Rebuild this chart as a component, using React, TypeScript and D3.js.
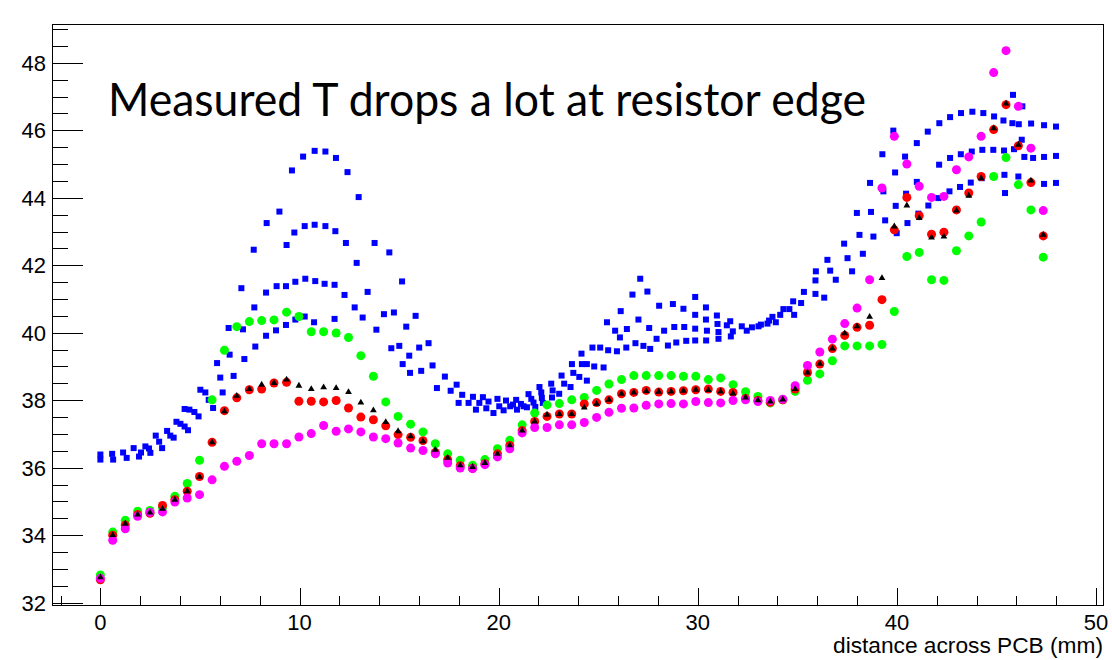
import React from 'react';
import * as d3 from 'd3';

const WIDTH = 1112;
const HEIGHT = 660;

// Sensor positions along the board (mm), shared by the four dot series
const positionMm = [
  0, 0.62, 1.25, 1.87, 2.49, 3.12, 3.74, 4.36, 4.98, 5.61, 6.23, 6.85, 7.48, 8.1, 8.72, 9.35,
  9.97, 10.59, 11.21, 11.84, 12.46, 13.08, 13.71, 14.33, 14.95, 15.58, 16.2, 16.82, 17.44, 18.07,
  18.69, 19.31, 19.94, 20.56, 21.18, 21.81, 22.43, 23.05, 23.67, 24.3, 24.92, 25.54, 26.17, 26.79,
  27.41, 28.04, 28.66, 29.28, 29.9, 30.53, 31.15, 31.77, 32.4, 33.02, 33.64, 34.27, 34.89, 35.51,
  36.13, 36.76, 37.38, 38.0, 38.63, 39.25, 39.87, 40.5, 41.12, 41.74, 42.36, 42.99, 43.61, 44.23,
  44.86, 45.48, 46.1, 46.73, 47.35,
];

const greenT = [
  32.82, 34.09, 34.44, 34.71, 34.73, 34.83, 35.15, 35.53, 36.22, 38.01, 39.48, 40.18, 40.33, 40.36,
  40.38, 40.61, 40.48, 40.03, 40.03, 39.99, 39.86, 39.32, 38.71, 37.95, 37.52, 37.29, 37.06, 36.71,
  36.41, 36.22, 36.07, 36.24, 36.56, 36.81, 37.27, 37.62, 37.86, 37.9, 38.01, 38.08, 38.29, 38.48,
  38.61, 38.73, 38.73, 38.73, 38.73, 38.71, 38.71, 38.61, 38.66, 38.46, 38.25, 38.11, 37.92, 38.01,
  38.26, 38.59, 38.78, 39.17, 39.61, 39.61, 39.61, 39.65, 40.63, 42.26, 42.38, 41.57, 41.55, 42.43,
  42.87, 43.28, 44.63, 45.19, 44.39, 43.64, 42.24,
];

const redT = [
  32.68, 34.0, 34.3, 34.61, 34.65, 34.88, 35.05, 35.3, 35.74, 36.75, 37.69, 38.07, 38.31, 38.33,
  38.51, 38.53, 37.97, 37.97, 37.95, 37.99, 37.77, 37.5, 37.42, 37.24, 36.98, 36.9, 36.8, 36.45,
  36.24, 36.06, 35.98, 36.12, 36.41, 36.66, 37.1, 37.37, 37.52, 37.59, 37.59, 37.89, 37.93, 38.01,
  38.19, 38.23, 38.29, 38.24, 38.26, 38.28, 38.31, 38.33, 38.26, 38.23, 38.05, 37.99, 37.94, 38.01,
  38.33, 38.82, 39.07, 39.53, 39.92, 40.16, 40.22, 40.98, 43.05, 44.01, 43.47, 42.92, 42.98, 43.64,
  44.14, 44.63, 46.02, 46.76, 45.54, 44.45, 42.87,
];

const blackT = [
  32.75, 34.0, 34.34, 34.61, 34.67, 34.78, 35.05, 35.3, 35.73, 36.75, 37.67, 38.13, 38.33, 38.46,
  38.51, 38.61, 38.43, 38.33, 38.38, 38.36, 38.24, 37.93, 37.7, 37.35, 37.08, 36.93, 36.78, 36.53,
  36.29, 36.07, 36.02, 36.14, 36.41, 36.66, 37.1, 37.37, 37.57, 37.59, 37.59, 37.78, 37.89, 38.01,
  38.19, 38.23, 38.27, 38.25, 38.26, 38.28, 38.31, 38.3, 38.26, 38.2, 38.08, 38.0, 37.96, 38.02,
  38.33, 38.82, 39.08, 39.53, 39.98, 40.19, 40.47, 41.62, 43.15, 43.77, 43.4, 42.82, 42.85, 43.62,
  44.06, 44.58, 46.06, 46.79, 45.57, 44.51, 42.9,
];

const magentaT = [
  32.72, 33.85, 34.19, 34.56, 34.68, 34.69, 34.98, 35.1, 35.2, 35.64, 36.04, 36.19, 36.36, 36.71,
  36.71, 36.71, 36.91, 37.01, 37.25, 37.08, 37.15, 37.06, 36.91, 36.86, 36.73, 36.58, 36.51, 36.41,
  36.14, 35.99, 35.97, 36.09, 36.32, 36.56, 37.03, 37.19, 37.19, 37.27, 37.27, 37.34, 37.49, 37.64,
  37.76, 37.77, 37.85, 37.89, 37.9, 37.89, 37.96, 37.93, 37.92, 37.99, 38.01, 37.96, 37.99, 38.03,
  38.43, 39.03, 39.43, 39.81, 40.27, 40.73, 41.57, 44.29, 45.82, 45.0, 44.34, 44.01, 44.04, 44.83,
  45.21, 45.82, 47.71, 48.36, 46.71, 45.47, 43.62,
];

// Scanned profile: [position mm, T]
const blueScan: [number, number][] = [
  [0.0, 36.39], [0.0, 36.24], [0.59, 36.41], [0.64, 36.24], [1.14, 36.45], [1.32, 36.29], [1.67, 36.58],
  [1.94, 36.33], [2.04, 36.45], [2.26, 36.63], [2.44, 36.57], [2.51, 36.44], [2.78, 36.95], [2.95, 36.77],
  [3.1, 36.58], [3.35, 37.09], [3.51, 36.95], [3.68, 36.89], [3.82, 37.36], [4.02, 37.3], [4.23, 37.22],
  [4.4, 37.11], [4.23, 37.74], [4.47, 37.72], [4.72, 37.65], [4.93, 37.52], [5.02, 38.31], [5.27, 38.23],
  [5.44, 38.01], [5.66, 37.77], [5.86, 39.1], [6.02, 38.67], [6.14, 38.23], [6.44, 40.14], [6.49, 39.35],
  [9.62, 44.81], [10.18, 45.22], [10.76, 45.39], [11.3, 45.37], [11.83, 45.18], [12.41, 44.76], [12.97, 44.02],
  [8.99, 43.59], [8.35, 43.25], [7.7, 42.46],
  [9.74, 42.97], [10.26, 43.16], [10.76, 43.2], [11.3, 43.16], [11.8, 43.01], [12.33, 42.66], [12.87, 42.07],
  [9.35, 42.6],
  [7.08, 41.32], [7.73, 40.75], [8.32, 41.19], [8.85, 41.38], [9.32, 41.38], [9.79, 41.51], [10.29, 41.6],
  [10.79, 41.53], [11.26, 41.45], [11.76, 41.42], [12.26, 41.12], [12.77, 40.75],
  [7.16, 40.1], [7.78, 39.59], [8.32, 39.91], [8.82, 40.07], [9.32, 40.23], [9.79, 40.39], [10.26, 40.48],
  [10.73, 40.31], [11.76, 40.41], [7.23, 39.22], [6.69, 38.72],
  [13.77, 42.66], [14.51, 42.38], [15.15, 41.52], [13.42, 41.21], [13.17, 40.45], [14.24, 40.55], [14.74, 40.6],
  [15.83, 40.5], [13.86, 40.09], [15.36, 40.18], [14.61, 39.54], [15.01, 39.61], [16.01, 39.56], [16.48, 39.69],
  [15.51, 39.32], [15.18, 39.07], [15.55, 38.81], [16.11, 38.87], [16.68, 39.03], [17.3, 38.7], [16.9, 38.36],
  [17.59, 38.28], [17.89, 38.46], [18.17, 38.16], [17.99, 37.92], [18.49, 37.92], [18.71, 38.1], [18.86, 37.72],
  [19.03, 37.92], [19.21, 38.09], [19.38, 37.76], [19.49, 37.96],
  [19.74, 37.62], [19.94, 38.04], [20.03, 37.82], [20.25, 37.7], [20.37, 37.99], [20.58, 37.82], [20.72, 37.87],
  [20.88, 38.01], [20.92, 37.72], [21.12, 37.89], [21.25, 37.82], [21.5, 38.18], [21.42, 37.79], [21.64, 38.04],
  [21.75, 37.93], [21.84, 37.8], [22.05, 38.39], [22.14, 38.23], [22.17, 38.07], [22.22, 37.92], [22.64, 38.49],
  [22.71, 38.29], [22.68, 38.08], [23.04, 38.19], [23.16, 38.73], [23.29, 38.49], [23.61, 38.39], [23.68, 39.07],
  [23.75, 38.81], [24.05, 38.69], [24.16, 39.38], [24.18, 39.07], [24.43, 39.07], [24.43, 38.58], [24.71, 39.56],
  [24.8, 39.0], [25.1, 39.56], [25.27, 38.97], [25.5, 39.48], [25.44, 40.31], [25.85, 40.06], [25.94, 39.45],
  [26.13, 40.64],
  [27.11, 41.6], [26.72, 41.13], [27.47, 41.22], [28.06, 40.8], [28.75, 40.85], [29.28, 40.71], [29.87, 41.06],
  [30.41, 40.75], [29.87, 40.53], [30.96, 40.51], [30.41, 40.39], [27.02, 40.39], [26.44, 40.11], [27.56, 40.14],
  [28.31, 40.06], [28.82, 40.17], [29.32, 40.17], [29.87, 40.12], [30.46, 40.06], [30.99, 40.26], [31.04, 40.02],
  [31.46, 40.22], [31.63, 40.34], [31.76, 40.04], [32.21, 40.19], [32.46, 40.06], [26.09, 39.86], [27.93, 39.82],
  [31.66, 39.89], [26.41, 39.56], [26.87, 39.69], [27.27, 39.61], [27.61, 39.52], [28.5, 39.62], [28.92, 39.71],
  [29.42, 39.76], [29.87, 39.77], [30.42, 39.77], [31.04, 39.82],
  [37.99, 43.55], [38.7, 43.58], [38.12, 42.9], [38.82, 42.85], [37.35, 42.64], [38.29, 42.34], [36.51, 42.16],
  [37.52, 42.21], [35.93, 41.82], [36.65, 41.84], [37.75, 41.82], [35.91, 41.55], [36.93, 41.57], [35.33, 41.21],
  [35.91, 41.15], [36.35, 41.04], [34.79, 40.93], [35.19, 40.88], [34.3, 40.7], [34.6, 40.7], [34.84, 40.53],
  [34.14, 40.53], [33.75, 40.47], [33.58, 40.36], [33.92, 40.31], [33.5, 40.27], [33.17, 40.24], [33.05, 40.19],
  [32.72, 40.16],
  [39.82, 45.99], [39.27, 45.29], [40.41, 45.22], [39.91, 44.75], [41.0, 45.62], [41.55, 45.96], [42.13, 46.21],
  [42.67, 46.39], [43.22, 46.51], [43.79, 46.55], [44.34, 46.51], [44.88, 46.41], [42.12, 44.98], [42.67, 45.18],
  [43.21, 45.29], [43.76, 45.37], [44.29, 45.42], [44.84, 45.42], [38.65, 44.44], [39.32, 44.19], [41.0, 44.47],
  [40.46, 44.12], [39.94, 43.76], [41.58, 43.77], [42.08, 43.99], [42.64, 44.19], [43.17, 44.32], [43.71, 44.45],
  [44.26, 44.58], [39.41, 43.33], [40.53, 43.25], [41.08, 43.53], [39.99, 42.95],
  [45.83, 47.05], [46.3, 46.71], [45.35, 46.29], [45.8, 46.21], [46.12, 46.18], [46.74, 46.2], [47.39, 46.15],
  [47.99, 46.11], [46.27, 45.72], [45.38, 45.4], [45.88, 45.44], [46.4, 45.21], [46.84, 45.18], [47.39, 45.21],
  [47.99, 45.24], [45.4, 44.68], [46.1, 44.63], [46.74, 44.44], [47.39, 44.41], [47.99, 44.44], [45.43, 44.14],
];

const xTickLabels = [0, 10, 20, 30, 40, 50];
const yTickLabels = [32, 34, 36, 38, 40, 42, 44, 46, 48];
const xTitle = 'distance across PCB (mm)';
const headline = 'Measured T drops a lot at resistor edge';

export default function App() {
  const frame = { left: 52, right: 1103, top: 24, bottom: 605 };
  const x = d3.scaleLinear().domain([-2.43, 50.35]).range([frame.left, frame.right]);
  const y = d3.scaleLinear().domain([31.93, 49.15]).range([frame.bottom, frame.top]);

  const xMinor = d3.range(-2, 50.01, 2).filter((v) => Math.abs(v % 10) > 1e-6);
  const yMinor = d3.range(32, 49.01, 0.5).filter((v) => Math.abs(v % 2) > 1e-6);

  const triangle = d3.symbol().type(d3.symbolTriangle).size(20)();
  const axisFont = "'Liberation Sans', Arial, Helvetica, sans-serif";
  const sq = 6;

  const dots = (vals: number[], color: string) =>
    vals.map((t, i) => (
      <circle key={i} cx={x(positionMm[i])} cy={y(t)} r={4.5} fill={color} />
    ));

  return (
    <svg
      width={WIDTH}
      height={HEIGHT}
      style={{ position: 'absolute', left: 0, top: 0, background: '#fff' }}
    >
      <rect x={0} y={0} width={WIDTH} height={HEIGHT} fill="#fff" />

      {/* data */}
      <g>
        {blueScan.map(([m, t], i) => (
          <rect key={i} x={x(m) - sq / 2} y={y(t) - sq / 2} width={sq} height={sq} fill="#0000ff" />
        ))}
      </g>
      <g>{dots(greenT, '#00ff00')}</g>
      <g>{dots(redT, '#ff0000')}</g>
      <g>{dots(magentaT, '#ff00ff')}</g>
      <g>
        {blackT.map((t, i) => (
          <path key={i} d={triangle} transform={`translate(${x(positionMm[i])},${y(t)})`} fill="#000" />
        ))}
      </g>

      {/* frame */}
      <rect
        x={frame.left + 0.5}
        y={frame.top + 0.5}
        width={frame.right - frame.left}
        height={frame.bottom - frame.top}
        fill="none"
        stroke="#000"
        strokeWidth={1}
      />

      {/* axis ticks */}
      <g stroke="#000" strokeWidth={1}>
        {xTickLabels.map((v) => (
          <line key={v} x1={Math.round(x(v)) + 0.5} x2={Math.round(x(v)) + 0.5} y1={frame.bottom} y2={frame.bottom - 17} />
        ))}
        {xMinor.map((v) => (
          <line key={v} x1={Math.round(x(v)) + 0.5} x2={Math.round(x(v)) + 0.5} y1={frame.bottom} y2={frame.bottom - 9} />
        ))}
        {yTickLabels.map((v) => (
          <line key={v} x1={frame.left} x2={frame.left + 31} y1={Math.round(y(v)) + 0.5} y2={Math.round(y(v)) + 0.5} />
        ))}
        {yMinor.map((v) => (
          <line key={v} x1={frame.left} x2={frame.left + 16} y1={Math.round(y(v)) + 0.5} y2={Math.round(y(v)) + 0.5} />
        ))}
      </g>

      <g fontFamily={axisFont} fontSize={22} fill="#000">
        {xTickLabels.map((v) => (
          <text key={v} x={x(v)} y={630} textAnchor="middle">
            {v}
          </text>
        ))}
        {yTickLabels.map((v) => (
          <text key={v} x={46} y={y(v) + 8} textAnchor="end">
            {v}
          </text>
        ))}
        <text x={frame.right} y={653} textAnchor="end" textLength={270} lengthAdjust="spacingAndGlyphs">
          {xTitle}
        </text>
      </g>

      <text
        x={108}
        y={116}
        fontFamily="Lato, 'Open Sans', sans-serif"
        fontSize={47}
        fill="#000"
        textLength={758}
        lengthAdjust="spacingAndGlyphs"
      >
        {headline}
      </text>
    </svg>
  );
}
